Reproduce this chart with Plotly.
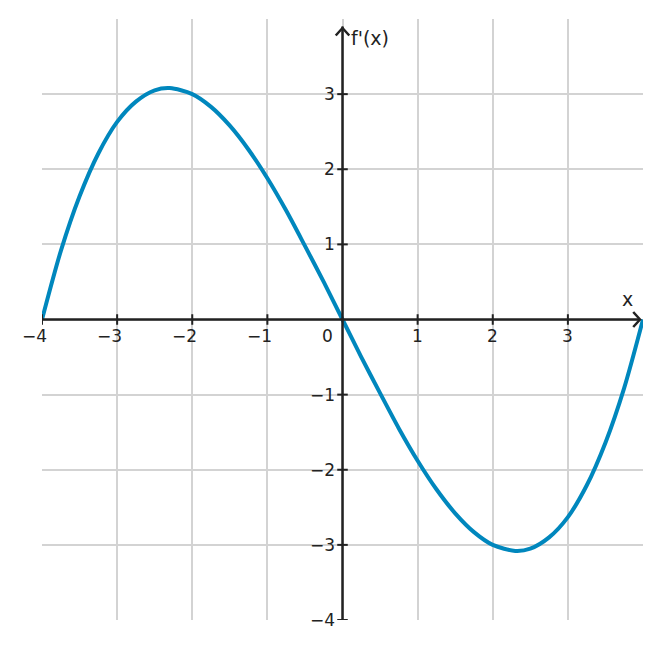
import plotly.graph_objects as go

xs = [-4, -3.75, -3.5, -3.25, -3, -2.75, -2.5, -2.3, -2, -1.75, -1.5, -1.25, -1, -0.75, -0.5, -0.25, 0,
      0.25, 0.5, 0.75, 1, 1.25, 1.5, 1.75, 2, 2.3, 2.5, 2.75, 3, 3.25, 3.5, 3.75, 4]
ys = [0, 0.91, 1.64, 2.21, 2.63, 2.9, 3.05, 3.08, 3.0, 2.83, 2.58, 2.26, 1.88, 1.45, 0.98, 0.5, 0,
      -0.5, -0.98, -1.45, -1.88, -2.26, -2.58, -2.83, -3.0, -3.08, -3.05, -2.9, -2.63, -2.21, -1.64, -0.91, 0]
xticks = [-4, -3, -2, -1, 1, 2, 3]
yticks = [-4, -3, -2, -1, 1, 2, 3]

fig = go.Figure()
fig.add_trace(go.Scatter(x=xs, y=ys, mode="lines", line=dict(color="#0087bd", width=4, shape="spline", smoothing=0.8), hoverinfo="skip"))

ax = "#222222"
shapes = [
    dict(type="line", x0=-4, x1=3.95, y0=0, y1=0, line=dict(color=ax, width=2.5)),
    dict(type="line", x0=0, x1=0, y0=-4, y1=3.9, line=dict(color=ax, width=2.5)),
    dict(type="path", path="M 3.87,0.1 L 3.96,0 L 3.87,-0.1", line=dict(color=ax, width=2.5)),
    dict(type="path", path="M -0.09,3.78 L 0,3.88 L 0.09,3.78", line=dict(color=ax, width=2.5)),
]
ann = []
font = dict(family="DejaVu Sans", size=17, color=ax)
for t in xticks:
    shapes.append(dict(type="line", x0=t, x1=t, y0=-0.07, y1=0.07, line=dict(color=ax, width=2)))
    ann.append(dict(x=t, y=0, text=str(t).replace("-", "−"), showarrow=False, xanchor="right", yanchor="top", xshift=7, yshift=-4, font=font))
for t in yticks:
    shapes.append(dict(type="line", x0=-0.07, x1=0.07, y0=t, y1=t, line=dict(color=ax, width=2)))
    ann.append(dict(x=0, y=t, text=str(t).replace("-", "−"), showarrow=False, xanchor="right", yanchor="middle", xshift=-6, font=font))
ann.append(dict(x=0, y=0, text="0", showarrow=False, xanchor="right", yanchor="top", xshift=-8, yshift=-4, font=font))
ann.append(dict(x=3.8, y=0.1, text="x", showarrow=False, xanchor="center", yanchor="bottom", font=dict(family="DejaVu Sans", size=19, color=ax)))
ann.append(dict(x=0.08, y=3.75, text="f'(x)", showarrow=False, xanchor="left", yanchor="middle", font=dict(family="DejaVu Sans", size=19, color=ax)))

fig.update_layout(
    width=661, height=648, plot_bgcolor="white", paper_bgcolor="white",
    margin=dict(l=34, r=26, t=11, b=36), showlegend=False,
    xaxis=dict(range=[-4, 4], tickvals=[-4, -3, -2, -1, 0, 1, 2, 3, 4], showticklabels=False, gridcolor="#d3d3d3", gridwidth=1.5, zeroline=False, showline=False),
    yaxis=dict(range=[-4, 4], tickvals=[-4, -3, -2, -1, 0, 1, 2, 3, 4], showticklabels=False, gridcolor="#d3d3d3", gridwidth=1.5, zeroline=False, showline=False),
    shapes=shapes, annotations=ann,
)
fig.write_html("out.html")
